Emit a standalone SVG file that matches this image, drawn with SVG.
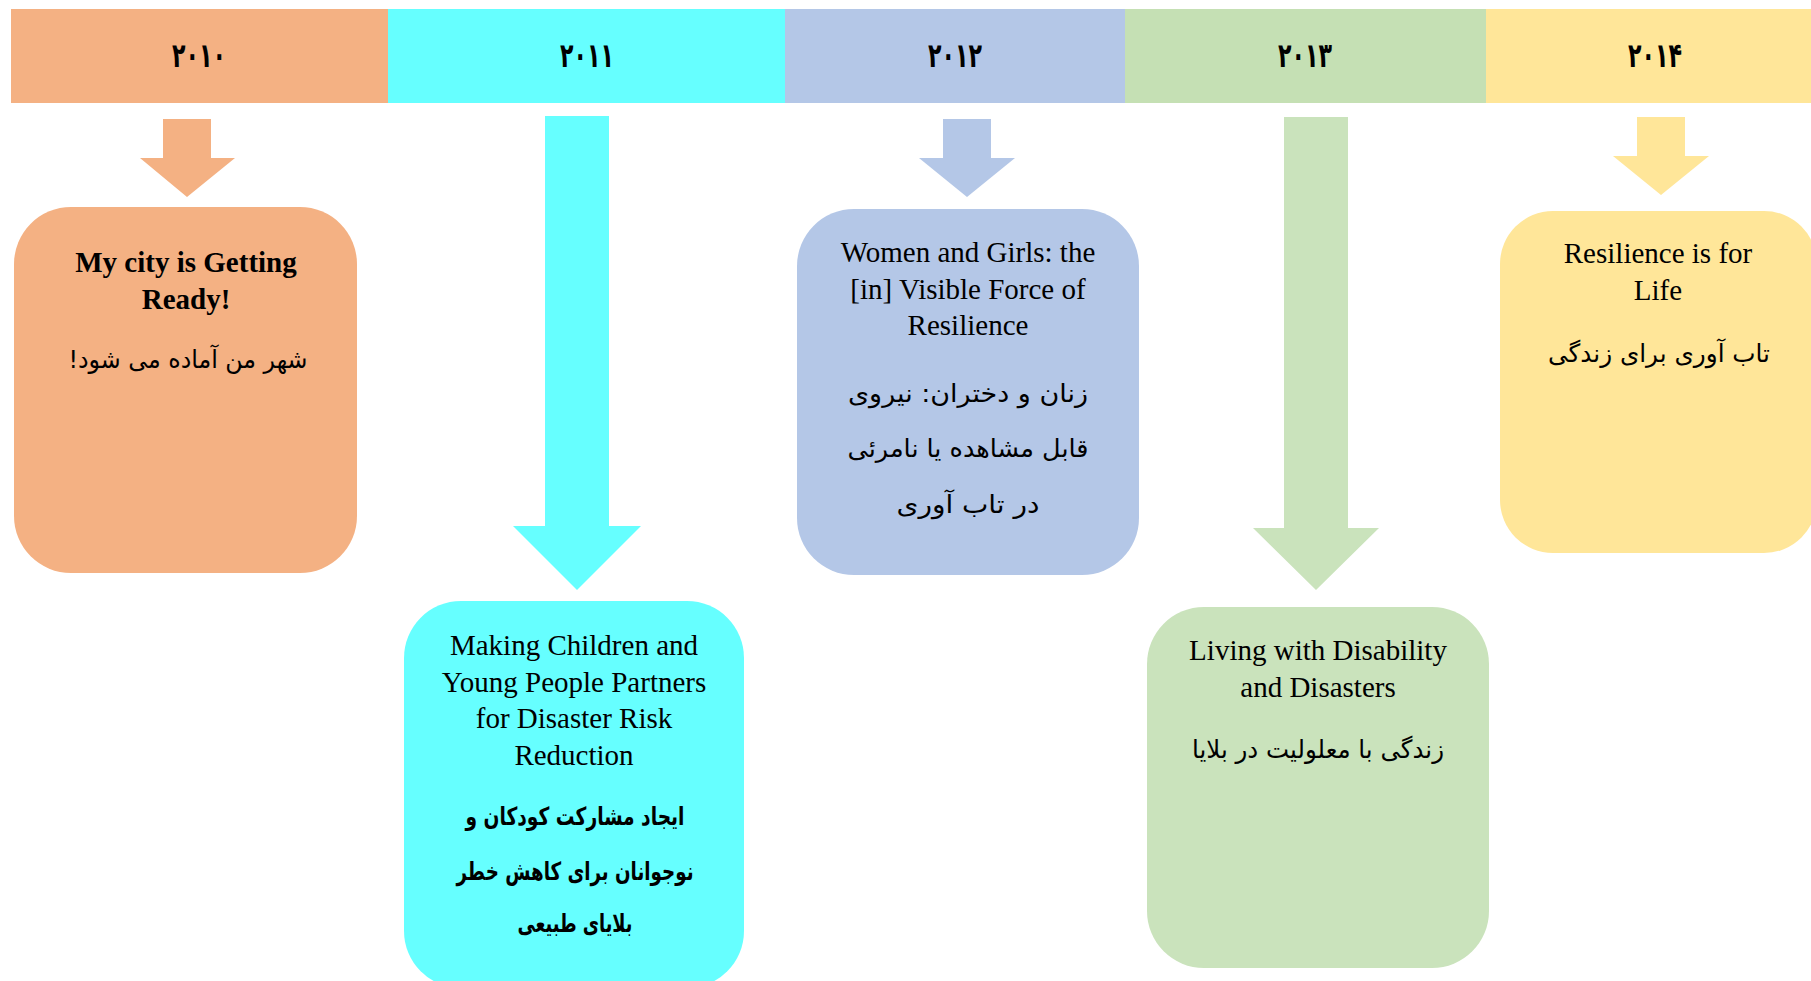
<svg xmlns="http://www.w3.org/2000/svg" width="1811" height="981" viewBox="0 0 1811 981">
<style>
.yr{font-family:"DejaVu Sans",sans-serif;font-weight:bold;font-size:34px;fill:#000;text-anchor:middle}
.en{font-family:"Liberation Serif",serif;font-size:29px;fill:#000;text-anchor:middle}
.enb{font-family:"Liberation Serif",serif;font-size:29px;font-weight:bold;fill:#000;text-anchor:middle}
.fa{font-family:"DejaVu Sans",sans-serif;font-size:25px;fill:#000;text-anchor:middle;direction:rtl;unicode-bidi:embed}
.fab{font-weight:bold}
.c1{fill:#F4B183}.c2{fill:#66FFFF}.c3{fill:#B4C7E7}.c4{fill:#C5E0B4}.c4b{fill:#CAE3BC}.c5{fill:#FFE699}
</style>
<rect width="1811" height="981" fill="#fff"/>
<g id="header">
<rect class="c1" x="11" y="9" width="377" height="94"/>
<rect class="c2" x="388" y="9" width="397" height="94"/>
<rect class="c3" x="785" y="9" width="340" height="94"/>
<rect class="c4" x="1125" y="9" width="361" height="94"/>
<rect class="c5" x="1486" y="9" width="325" height="94"/>
<text class="yr" x="199" y="67" textLength="54" lengthAdjust="spacingAndGlyphs">۲۰۱۰</text>
<text class="yr" x="587" y="67" textLength="54" lengthAdjust="spacingAndGlyphs">۲۰۱۱</text>
<text class="yr" x="955" y="67" textLength="54" lengthAdjust="spacingAndGlyphs">۲۰۱۲</text>
<text class="yr" x="1305" y="67" textLength="54" lengthAdjust="spacingAndGlyphs">۲۰۱۳</text>
<text class="yr" x="1655" y="67" textLength="54" lengthAdjust="spacingAndGlyphs">۲۰۱۴</text>
</g>
<g id="connectors">
<polygon class="c1" points="163,119 211,119 211,158 235,158 187,197 140,158 163,158"/>
<polygon class="c2" points="545,116 609,116 609,526 641,526 577,590 513,526 545,526"/>
<polygon class="c3" points="943,119 991,119 991,158 1015,158 967,197 919,158 943,158"/>
<polygon class="c4b" points="1284,117 1348,117 1348,528 1379,528 1316,590 1253,528 1284,528"/>
<polygon class="c5" points="1637,117 1685,117 1685,156 1709,156 1661,195 1613,156 1637,156"/>
</g>
<g id="node-2010">
<rect class="c1" x="14" y="207" width="343" height="366" rx="57"/>
<text class="enb" x="186" y="272">My city is Getting</text>
<text class="enb" x="186" y="309">Ready!</text>
<text class="fa" x="188" y="368" textLength="239" lengthAdjust="spacingAndGlyphs">شهر من آماده می شود!</text>
</g>
<g id="node-2011">
<rect class="c2" x="404" y="601" width="340" height="387" rx="57"/>
<text class="en" x="574" y="655">Making Children and</text>
<text class="en" x="574" y="692">Young People Partners</text>
<text class="en" x="574" y="728">for Disaster Risk</text>
<text class="en" x="574" y="765">Reduction</text>
<text class="fa fab" x="575" y="825" textLength="219" lengthAdjust="spacingAndGlyphs">ایجاد مشارکت کودکان و</text>
<text class="fa fab" x="575" y="880" textLength="237" lengthAdjust="spacingAndGlyphs">نوجوانان برای کاهش خطر</text>
<text class="fa fab" x="575" y="932" textLength="115" lengthAdjust="spacingAndGlyphs">بلایای طبیعی</text>
</g>
<g id="node-2012">
<rect class="c3" x="797" y="209" width="342" height="366" rx="57"/>
<text class="en" x="968" y="262">Women and Girls: the</text>
<text class="en" x="968" y="299">[in] Visible Force of</text>
<text class="en" x="968" y="335">Resilience</text>
<text class="fa" x="968" y="402" textLength="240" lengthAdjust="spacingAndGlyphs">زنان و دختران: نیروی</text>
<text class="fa" x="968" y="457" textLength="241" lengthAdjust="spacingAndGlyphs">قابل مشاهده یا نامرئی</text>
<text class="fa" x="968" y="513" textLength="143" lengthAdjust="spacingAndGlyphs">در تاب آوری</text>
</g>
<g id="node-2013">
<rect class="c4b" x="1147" y="607" width="342" height="361" rx="57"/>
<text class="en" x="1318" y="660">Living with Disability</text>
<text class="en" x="1318" y="697">and Disasters</text>
<text class="fa" x="1318" y="758" textLength="252" lengthAdjust="spacingAndGlyphs">زندگی با معلولیت در بلایا</text>
</g>
<g id="node-2014">
<rect class="c5" x="1500" y="211" width="317" height="342" rx="53"/>
<text class="en" x="1658" y="263">Resilience is for</text>
<text class="en" x="1658" y="300">Life</text>
<text class="fa" x="1659" y="362" textLength="222" lengthAdjust="spacingAndGlyphs">تاب آوری برای زندگی</text>
</g>
</svg>
